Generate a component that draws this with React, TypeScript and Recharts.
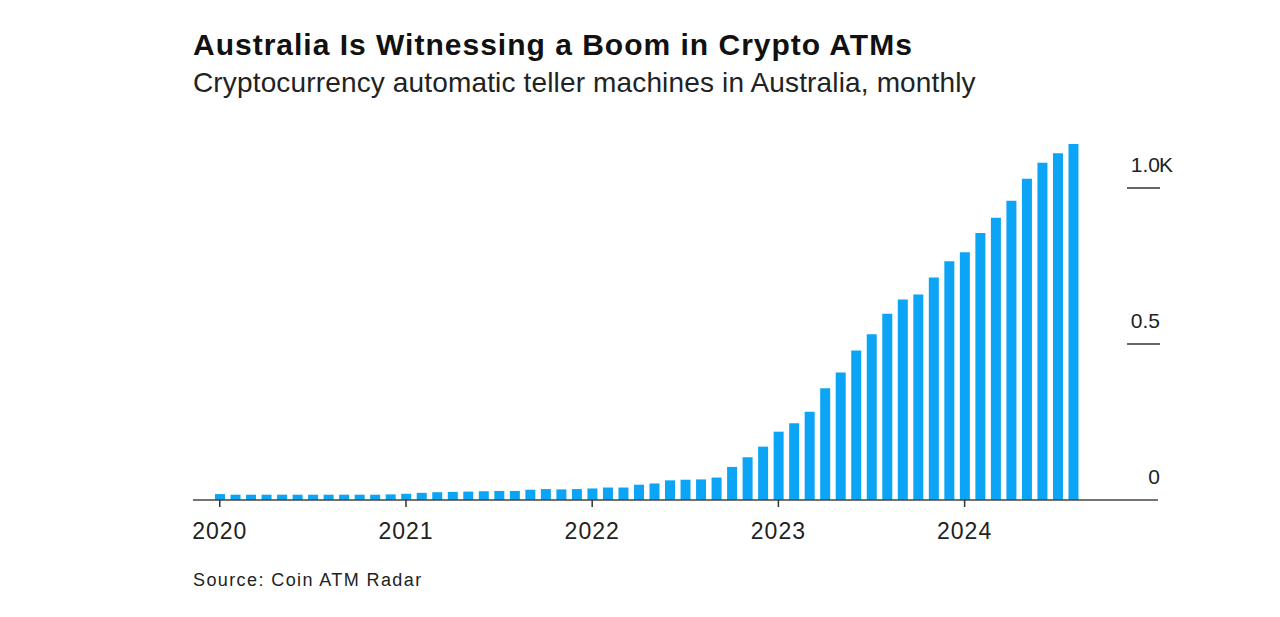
import React from "react";
import { BarChart, Bar, XAxis, YAxis } from "recharts";

const categories = [
  "2020-01","2020-02","2020-03","2020-04","2020-05","2020-06","2020-07","2020-08","2020-09","2020-10","2020-11","2020-12",
  "2021-01","2021-02","2021-03","2021-04","2021-05","2021-06","2021-07","2021-08","2021-09","2021-10","2021-11","2021-12",
  "2022-01","2022-02","2022-03","2022-04","2022-05","2022-06","2022-07","2022-08","2022-09","2022-10","2022-11","2022-12",
  "2023-01","2023-02","2023-03","2023-04","2023-05","2023-06","2023-07","2023-08","2023-09","2023-10","2023-11","2023-12",
  "2024-01","2024-02","2024-03","2024-04","2024-05","2024-06","2024-07","2024-08",
];

const atmCounts = [
  19, 17, 17, 17, 17, 17, 17, 17, 17, 17, 17, 18,
  20, 23, 25, 26, 27, 28, 29, 29, 33, 35, 34, 35,
  37, 40, 40, 49, 53, 63, 65, 66, 72, 106, 137, 171,
  219, 246, 283, 358, 409, 479, 531, 597, 643, 659, 713, 765,
  794, 856, 905, 959, 1030, 1081, 1111, 1141,
];

const xTicks = ["2020-01", "2021-01", "2022-01", "2023-01", "2024-01"];
const yTicks = [0, 500, 1000];
const yTickLabels = ["0", "0.5", "1.0"];
const yTickSuffix = ["", "", "K"];

const data = categories.map((c, i) => ({ month: c, value: atmCounts[i] }));

const FONT = "'Liberation Sans', Arial, Helvetica, sans-serif";
const PLOT_RIGHT = 1158;

const YTick = (props: any) => {
  const { y, payload } = props;
  const idx = yTicks.indexOf(payload.value);
  return (
    <g>
      {idx > 0 && (
        <line x1={PLOT_RIGHT - 31} x2={PLOT_RIGHT + 2} y1={y} y2={y} stroke="#333" strokeWidth={1.5} />
      )}
      <text
        x={PLOT_RIGHT + 2}
        y={y - 16}
        textAnchor="end"
        fontSize={21}
        fontFamily={FONT}
        fill="#222"
      >
        {yTickLabels[idx]}
      </text>
      {yTickSuffix[idx] && (
        <text x={PLOT_RIGHT + 1} y={y - 16} textAnchor="start" fontSize={21} fontFamily={FONT} fill="#222">
          {yTickSuffix[idx]}
        </text>
      )}
    </g>
  );
};

export default function App() {
  return (
    <div
      style={{
        position: "absolute",
        left: 0,
        top: 0,
        width: 1280,
        height: 617,
        background: "#fff",
        overflow: "hidden",
        fontFamily: FONT,
      }}
    >
      <div
        style={{
          position: "absolute",
          left: 193,
          top: 54,
          transform: "translateY(-80%)",
          fontSize: 30,
          fontWeight: 700,
          letterSpacing: 1,
          color: "#111",
          whiteSpace: "nowrap",
          lineHeight: 1,
        }}
      >
        Australia Is Witnessing a Boom in Crypto ATMs
      </div>
      <div
        style={{
          position: "absolute",
          left: 193,
          top: 91,
          transform: "translateY(-80%)",
          fontSize: 28,
          letterSpacing: 0.15,
          color: "#222",
          whiteSpace: "nowrap",
          lineHeight: 1,
        }}
      >
        Cryptocurrency automatic teller machines in Australia, monthly
      </div>
      <div style={{ position: "absolute", left: 0, top: 0 }}>
        <BarChart
          width={1280}
          height={617}
          data={data}
          margin={{ top: 125.6, right: 62, bottom: 67, left: 193 }}
        >
          <XAxis
            dataKey="month"
            ticks={xTicks}
            interval={0}
            tickFormatter={(v: string) => v.slice(0, 4)}
            padding={{ left: 19, right: 77 }}
            height={50}
            axisLine={{ stroke: "#444", strokeWidth: 1.5 }}
            tickLine={{ stroke: "#333", strokeWidth: 1.5 }}
            tickSize={7}
            tickMargin={16}
            tick={{ fontSize: 23, fontFamily: FONT, fill: "#222", style: { letterSpacing: 1 } }}
          />
          <YAxis
            orientation="right"
            domain={[0, 1200]}
            ticks={yTicks}
            width={60}
            axisLine={false}
            tickLine={false}
            tick={<YTick />}
            interval={0}
          />
          <Bar dataKey="value" fill="#0ca4f4" barSize={10} isAnimationActive={false} />
        </BarChart>
      </div>
      <div
        style={{
          position: "absolute",
          left: 193,
          top: 585,
          transform: "translateY(-80%)",
          fontSize: 18,
          color: "#222",
          letterSpacing: 1.4,
          whiteSpace: "nowrap",
          lineHeight: 1,
        }}
      >
        Source: Coin ATM Radar
      </div>
    </div>
  );
}
